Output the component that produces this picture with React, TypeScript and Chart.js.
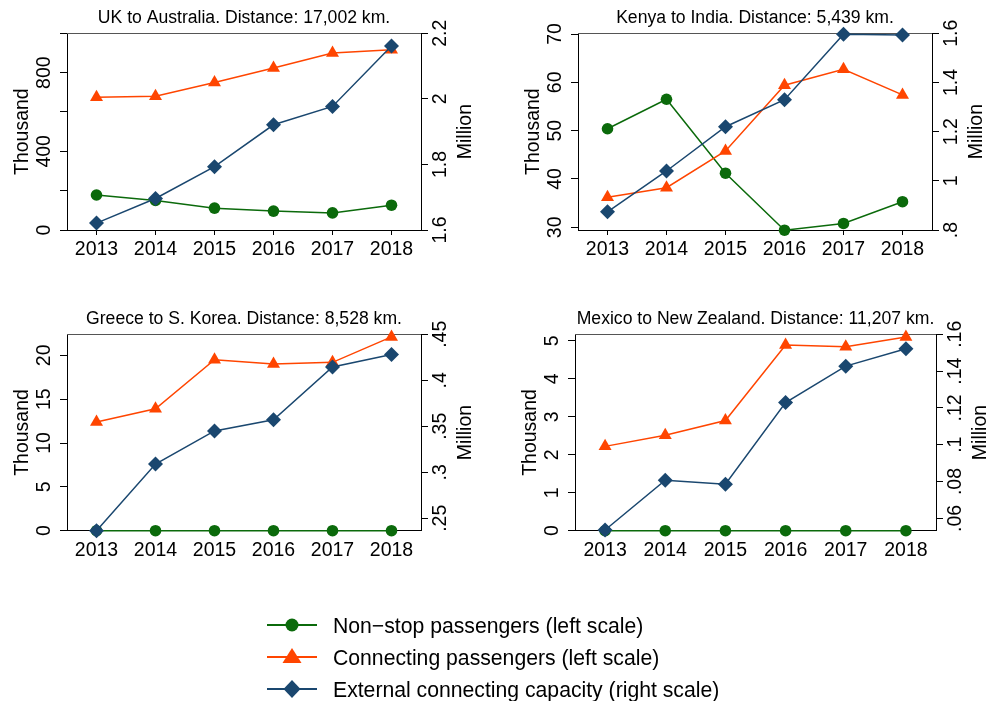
import React, { useEffect, useRef } from 'react';
import { Chart, registerables } from 'chart.js';

Chart.register(...registerables);

const FONT = '"Liberation Sans", Arial, Helvetica, sans-serif';
const GREEN = '#0b6a0b';
const ORANGE = '#ff4500';
const NAVY = '#1a476f';

const years = ['2013', '2014', '2015', '2016', '2017', '2018'];

const seriesNames = [
  'Non\u2212stop passengers (left scale)',
  'Connecting passengers (left scale)',
  'External connecting capacity (right scale)',
];

// UK to Australia
const ukTitle = 'UK to Australia. Distance: 17,002 km.';
const ukNonstop = [178, 150, 111, 96, 87, 126];
const ukConnecting = [675, 680, 750, 824, 900, 916];
const ukCapacity = [1.621, 1.696, 1.793, 1.921, 1.977, 2.161];
const ukLeftTicks = [0, 200, 400, 600, 800, 1000];
const ukLeftLabels = ['0', '', '400', '', '800', ''];
const ukRightTicks = [1.6, 1.8, 2.0, 2.2];
const ukRightLabels = ['1.6', '1.8', '2', '2.2'];

// Kenya to India
const keTitle = 'Kenya to India. Distance: 5,439 km.';
const keNonstop = [50.4, 56.5, 41.2, 29.4, 30.8, 35.3];
const keConnecting = [36.2, 38.2, 45.8, 59.4, 62.7, 57.4];
const keCapacity = [0.874, 1.04, 1.22, 1.33, 1.596, 1.593];
const keLeftTicks = [30, 40, 50, 60, 70];
const keLeftLabels = ['30', '40', '50', '60', '70'];
const keRightTicks = [0.8, 1.0, 1.2, 1.4, 1.6];
const keRightLabels = ['.8', '1', '1.2', '1.4', '1.6'];

// Greece to S. Korea
const grTitle = 'Greece to S. Korea. Distance: 8,528 km.';
const grNonstop = [0, 0, 0, 0, 0, 0];
const grConnecting = [12.4, 13.9, 19.5, 19.0, 19.2, 22.1];
const grCapacity = [0.2365, 0.309, 0.345, 0.357, 0.4145, 0.428];
const grLeftTicks = [0, 5, 10, 15, 20];
const grLeftLabels = ['0', '5', '10', '15', '20'];
const grRightTicks = [0.25, 0.3, 0.35, 0.4, 0.45];
const grRightLabels = ['.25', '.3', '.35', '.4', '.45'];

// Mexico to New Zealand
const mxTitle = 'Mexico to New Zealand. Distance: 11,207 km.';
const mxNonstop = [0, 0, 0, 0, 0, 0];
const mxConnecting = [2.22, 2.51, 2.9, 4.89, 4.84, 5.1];
const mxCapacity = [0.0537, 0.0807, 0.0785, 0.1229, 0.1427, 0.1522];
const mxLeftTicks = [0, 1, 2, 3, 4, 5];
const mxLeftLabels = ['0', '1', '2', '3', '4', '5'];
const mxRightTicks = [0.06, 0.08, 0.1, 0.12, 0.14, 0.16];
const mxRightLabels = ['.06', '.08', '.1', '.12', '.14', '.16'];

const leftTitle = 'Thousand';
const rightTitle = 'Million';

const CW = 493;
const CH = 290;

type PanelCfg = {
  title: string;
  nonstop: number[];
  connecting: number[];
  capacity: number[];
  leftRange: [number, number];
  rightRange: [number, number];
  leftTicks: number[];
  leftLabels: string[];
  rightTicks: number[];
  rightLabels: string[];
  left: number;
  top: number;
  plotLeft: number;
  plotRight: number;
  plotBottom: number;
  titlePadTop: number;
};

const panels: PanelCfg[] = [
  {
    title: ukTitle, nonstop: ukNonstop, connecting: ukConnecting, capacity: ukCapacity,
    leftRange: [0, 1000], rightRange: [1.6, 2.2],
    leftTicks: ukLeftTicks, leftLabels: ukLeftLabels, rightTicks: ukRightTicks, rightLabels: ukRightLabels,
    left: 0, top: 0, plotLeft: 67, plotRight: 421, plotBottom: 230, titlePadTop: 7.74,
  },
  {
    title: keTitle, nonstop: keNonstop, connecting: keConnecting, capacity: keCapacity,
    leftRange: [29.44, 70.15], rightRange: [0.8, 1.6],
    leftTicks: keLeftTicks, leftLabels: keLeftLabels, rightTicks: keRightTicks, rightLabels: keRightLabels,
    left: 493, top: 0, plotLeft: 85, plotRight: 439, plotBottom: 230, titlePadTop: 7.74,
  },
  {
    title: grTitle, nonstop: grNonstop, connecting: grConnecting, capacity: grCapacity,
    leftRange: [0, 22.4], rightRange: [0.2365, 0.45],
    leftTicks: grLeftTicks, leftLabels: grLeftLabels, rightTicks: grRightTicks, rightLabels: grRightLabels,
    left: 0, top: 290, plotLeft: 67, plotRight: 421, plotBottom: 240.7, titlePadTop: 18.74,
  },
  {
    title: mxTitle, nonstop: mxNonstop, connecting: mxConnecting, capacity: mxCapacity,
    leftRange: [0, 5.17], rightRange: [0.0533, 0.16],
    leftTicks: mxLeftTicks, leftLabels: mxLeftLabels, rightTicks: mxRightTicks, rightLabels: mxRightLabels,
    left: 493, top: 290, plotLeft: 82, plotRight: 443, plotBottom: 240.7, titlePadTop: 18.74,
  },
];

function makeAxisTextPlugin(cfg: PanelCfg) {
  const drawRot = (ctx: CanvasRenderingContext2D, text: string, x: number, y: number) => {
    ctx.save();
    ctx.translate(x, y);
    ctx.rotate(-Math.PI / 2);
    ctx.fillText(text, 0, 0);
    ctx.restore();
  };
  return {
    id: 'axisText',
    beforeDatasetsDraw(chart: any) {
      const { ctx, chartArea } = chart;
      ctx.save();
      ctx.strokeStyle = '#555';
      ctx.lineWidth = 1;
      ctx.beginPath();
      const y = Math.round(chartArea.top) + 0.5;
      ctx.moveTo(chartArea.left, y);
      ctx.lineTo(chartArea.right, y);
      ctx.stroke();
      ctx.restore();
    },
    afterDraw(chart: any) {
      const { ctx, chartArea, scales } = chart;
      ctx.save();
      ctx.fillStyle = '#000';
      ctx.font = `19.5px ${FONT}`;
      ctx.textAlign = 'center';
      ctx.textBaseline = 'alphabetic';
      cfg.leftTicks.forEach((v, i) => {
        const lbl = cfg.leftLabels[i];
        if (lbl) drawRot(ctx, lbl, chartArea.left - 17.5, scales.y.getPixelForValue(v));
      });
      cfg.rightTicks.forEach((v, i) => {
        const lbl = cfg.rightLabels[i];
        if (lbl) drawRot(ctx, lbl, chartArea.right + 24.5, scales.y1.getPixelForValue(v));
      });
      const midY = (chartArea.top + chartArea.bottom) / 2;
      drawRot(ctx, leftTitle, chartArea.left - 39, midY);
      drawRot(ctx, rightTitle, chartArea.right + 49.5, midY);
      ctx.restore();
    },
  };
}

function Panel({ cfg }: { cfg: PanelCfg }) {
  const ref = useRef<HTMLCanvasElement>(null);
  useEffect(() => {
    const canvas = ref.current;
    if (!canvas) return;
    const common = {
      borderWidth: 1.5,
      pointBorderWidth: 0,
      tension: 0,
      clip: false as any,
      fill: false,
    };
    const chart = new Chart(canvas, {
      type: 'line',
      data: {
        labels: years,
        datasets: [
          {
            ...common,
            label: seriesNames[0],
            data: cfg.nonstop,
            yAxisID: 'y',
            borderColor: GREEN,
            backgroundColor: GREEN,
            pointBackgroundColor: GREEN,
            pointStyle: 'circle',
            pointRadius: 5.8,
            order: 2,
          },
          {
            ...common,
            label: seriesNames[1],
            data: cfg.connecting,
            yAxisID: 'y',
            borderColor: ORANGE,
            backgroundColor: ORANGE,
            pointBackgroundColor: ORANGE,
            pointStyle: 'triangle',
            pointRadius: 7.5,
            order: 1,
          },
          {
            ...common,
            label: seriesNames[2],
            data: cfg.capacity,
            yAxisID: 'y1',
            borderColor: NAVY,
            backgroundColor: NAVY,
            pointBackgroundColor: NAVY,
            pointStyle: 'rectRot',
            pointRadius: 7.5,
            order: 0,
          },
        ],
      },
      options: {
        responsive: false,
        animation: false,
        events: [],
        layout: { padding: 0 },
        plugins: {
          legend: { display: false },
          tooltip: { enabled: false },
          title: {
            display: true,
            text: cfg.title,
            fullSize: false,
            color: '#000',
            font: { family: FONT, size: 17.6, weight: 'normal', lineHeight: 1.2 },
            padding: { top: cfg.titlePadTop, bottom: 4.44 },
          },
        },
        scales: {
          x: {
            type: 'category',
            offset: true,
            grid: {
              display: true,
              drawOnChartArea: false,
              drawTicks: true,
              tickLength: 5,
              color: '#000',
              offset: false,
            },
            border: { display: true, color: '#000', width: 1 },
            ticks: {
              color: '#000',
              font: { family: FONT, size: 19.5, lineHeight: 1.2 },
              padding: 3,
              maxRotation: 0,
              minRotation: 0,
              autoSkip: false,
            },
            afterFit: (s: any) => {
              s.height = CH - cfg.plotBottom;
            },
          },
          y: {
            type: 'linear',
            position: 'left',
            min: cfg.leftRange[0],
            max: cfg.leftRange[1],
            afterBuildTicks: (s: any) => {
              s.ticks = cfg.leftTicks.map((v) => ({ value: v }));
            },
            ticks: { callback: () => '', padding: 0, font: { size: 2 } },
            grid: { display: true, drawOnChartArea: false, drawTicks: true, tickLength: 7, color: '#000' },
            border: { display: true, color: '#000', width: 1 },
            afterFit: (s: any) => {
              s.width = cfg.plotLeft;
            },
          },
          y1: {
            type: 'linear',
            position: 'right',
            min: cfg.rightRange[0],
            max: cfg.rightRange[1],
            afterBuildTicks: (s: any) => {
              s.ticks = cfg.rightTicks.map((v) => ({ value: v }));
            },
            ticks: { callback: () => '', padding: 0, font: { size: 2 } },
            grid: { display: true, drawOnChartArea: false, drawTicks: true, tickLength: 7, color: '#000' },
            border: { display: true, color: '#000', width: 1 },
            afterFit: (s: any) => {
              s.width = CW - cfg.plotRight;
            },
          },
        },
      } as any,
      plugins: [makeAxisTextPlugin(cfg)],
    });
    return () => chart.destroy();
  }, [cfg]);
  return (
    <canvas
      ref={ref}
      width={CW}
      height={CH}
      style={{ position: 'absolute', left: cfg.left, top: cfg.top, width: CW, height: CH }}
    />
  );
}

function Legend() {
  const rows = [625, 657, 689];
  const lx1 = 267;
  const lx2 = 317;
  const mx = 292;
  const tx = 333;
  return (
    <svg
      width={986}
      height={701}
      style={{ position: 'absolute', left: 0, top: 0, pointerEvents: 'none' }}
    >
      <line x1={lx1} x2={lx2} y1={rows[0]} y2={rows[0]} stroke={GREEN} strokeWidth={2} />
      <circle cx={mx} cy={rows[0]} r={6.5} fill={GREEN} />
      <line x1={lx1} x2={lx2} y1={rows[1]} y2={rows[1]} stroke={ORANGE} strokeWidth={2} />
      <polygon
        points={`${mx},${rows[1] - 9} ${mx + 9.5},${rows[1] + 6} ${mx - 9.5},${rows[1] + 6}`}
        fill={ORANGE}
      />
      <line x1={lx1} x2={lx2} y1={rows[2]} y2={rows[2]} stroke={NAVY} strokeWidth={2} />
      <polygon
        points={`${mx},${rows[2] - 9} ${mx + 8.5},${rows[2]} ${mx},${rows[2] + 9} ${mx - 8.5},${rows[2]}`}
        fill={NAVY}
      />
      {seriesNames.map((n, i) => (
        <text
          key={n}
          x={tx}
          y={rows[i]}
          dominantBaseline="central"
          fontFamily={FONT}
          fontSize={21.2}
          fill="#000"
        >
          {n}
        </text>
      ))}
    </svg>
  );
}

export default function App() {
  return (
    <div
      style={{
        position: 'absolute',
        left: 0,
        top: 0,
        width: 986,
        height: 701,
        background: '#fff',
        overflow: 'hidden',
      }}
    >
      {panels.map((p, i) => (
        <Panel key={i} cfg={p} />
      ))}
      <Legend />
    </div>
  );
}
